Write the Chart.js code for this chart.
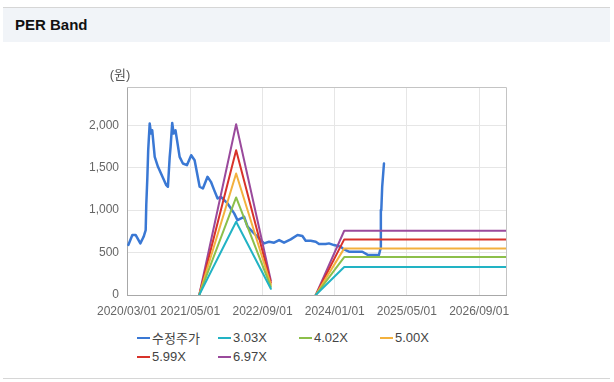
<!DOCTYPE html>
<html>
<head>
<meta charset="utf-8">
<script src="https://cdn.jsdelivr.net/npm/chart.js@4"></script>
<style>
    body { margin: 0; width: 614px; height: 382px; background: #fff; position: relative; overflow: hidden;
           font-family: "Liberation Sans", "Noto Sans CJK KR", sans-serif; }
    .header { position: absolute; left: 3px; top: 7px; width: 607px; height: 35px; background: #f1f4f8;
              border-top: 1px solid #d6d6d6; box-sizing: border-box; }
    .header span { position: absolute; left: 12px; top: 8px; font-size: 15px; font-weight: bold; color: #111; }
    .chartBox { position: absolute; left: 0; top: 50px; width: 614px; height: 272px; }
    .legend { position: absolute; left: 137px; top: 329px; display: grid; grid-template-columns: repeat(4, 81px);
              row-gap: 2px; font-size: 13px; color: #444; }
    .legend div { display: flex; align-items: center; height: 17px; white-space: nowrap; }
    .legend i { display: inline-block; width: 13px; height: 2px; margin-right: 2px; }
    .footer { position: absolute; left: 3px; top: 378px; width: 607px; border-top: 1px solid #d6d6d6; }
</style>
</head>
<body>
<div class="header"><span>PER Band</span></div>
<div class="chartBox"><canvas id="perChart" width="614" height="272"></canvas></div>
<div class="legend" id="legend"></div>
<div class="footer"></div>

<script>
// Data
const priceDates = [
    '2020-03-10', '2020-04-06', '2020-04-29', '2020-05-30', '2020-06-21', '2020-07-05', '2020-07-09',
    '2020-07-16', '2020-07-22', '2020-08-01', '2020-08-10', '2020-08-18', '2020-09-04', '2020-09-26',
    '2020-11-21', '2020-12-02', '2020-12-14', '2020-12-20', '2020-12-31', '2021-01-09', '2021-01-22',
    '2021-02-19', '2021-03-13', '2021-04-09', '2021-05-08', '2021-05-31', '2021-07-04', '2021-07-26',
    '2021-08-26', '2021-09-18', '2021-10-10', '2021-11-02', '2021-11-24', '2022-01-08', '2022-02-22',
    '2022-03-16', '2022-04-30', '2022-05-23', '2022-07-06', '2022-08-20', '2022-09-12', '2022-10-15',
    '2022-11-18', '2022-12-22', '2023-01-24', '2023-03-10', '2023-04-25', '2023-05-28', '2023-06-19',
    '2023-07-23', '2023-08-26', '2023-09-17', '2023-11-01', '2023-11-23', '2023-12-27', '2024-02-10',
    '2024-03-03', '2024-04-06', '2024-07-05', '2024-08-08', '2024-10-25', '2024-11-05', '2024-11-07',
    '2024-11-10', '2024-11-16', '2024-11-20', '2024-11-28'
];
const priceValues = [
    590, 706, 706, 608, 686, 765, 1059,
    1373, 1706, 2020, 1902, 1941, 1627, 1510,
    1294, 1275, 1627, 1745, 2027, 1902, 1941,
    1627, 1549, 1529, 1647, 1588, 1275, 1255,
    1392, 1333, 1235, 1137, 1157, 1078, 961,
    882, 921, 804, 726, 647, 608, 627,
    616, 647, 616, 655, 706, 694, 639,
    639, 627, 600, 600, 608, 588, 569,
    537, 510, 510, 475, 471, 549, 1000,
    1000, 1275, 1275, 1549
];

const bandDates = ['2021-07-01', '2022-03-07', '2022-10-27', '2023-03-01', '2023-08-26', '2024-03-05', '2027-03-01'];
const band303 = [0, 863, 73, null, 0, 330, 330];
const band402 = [0, 1149, 97, null, 0, 447, 447];
const band500 = [0, 1431, 120, null, 0, 549, 549];
const band599 = [0, 1706, 145, null, 0, 655, 655];
const band697 = [0, 2012, 170, null, 0, 757, 757];

const seriesLabels = ['수정주가', '3.03X', '4.02X', '5.00X', '5.99X', '6.97X'];
const seriesColors = ['#3a78d4', '#22b3c4', '#8cbf4a', '#f3b13e', '#d8322a', '#9a4a9c'];

const xTickDates = ['2020-03-01', '2021-05-01', '2022-09-01', '2024-01-01', '2025-05-01', '2026-09-01'];
const xRange = ['2020-03-01', '2027-03-01'];
const yTicks = [0, 500, 1000, 1500, 2000];
const yMax = 2450;

// Helpers
function toMs(d) {
    const p = d.split('-');
    return Date.UTC(+p[0], +p[1] - 1, +p[2]);
}

function formatDate(ms) {
    const d = new Date(ms);
    const mm = String(d.getUTCMonth() + 1).padStart(2, '0');
    const dd = String(d.getUTCDate()).padStart(2, '0');
    return `${d.getUTCFullYear()}/${mm}/${dd}`;
}

function points(dates, values) {
    return dates.map((d, i) => ({ x: toMs(d), y: values[i] }));
}

// Frame + unit label
const framePlugin = {
    id: 'frame',
    afterDraw(chart) {
        const { ctx, chartArea } = chart;
        ctx.save();
        ctx.strokeStyle = '#c4c4c4';
        ctx.lineWidth = 1;
        ctx.beginPath();
        ctx.moveTo(chartArea.left, chartArea.top + 0.5);
        ctx.lineTo(chartArea.right + 0.5, chartArea.top + 0.5);
        ctx.lineTo(chartArea.right + 0.5, chartArea.bottom);
        ctx.stroke();
        ctx.fillStyle = '#555';
        ctx.font = '13px "Liberation Sans", "Noto Sans CJK KR"';
        ctx.textAlign = 'center';
        ctx.textBaseline = 'middle';
        ctx.fillText('(원)', 120, 25);
        ctx.restore();
    }
};

const bandSeries = [band303, band402, band500, band599, band697];

const datasets = [{
    label: seriesLabels[0],
    data: points(priceDates, priceValues),
    borderColor: seriesColors[0],
    borderWidth: 2.5,
    order: 1
}].concat(bandSeries.map((values, i) => ({
    label: seriesLabels[i + 1],
    data: points(bandDates, values),
    borderColor: seriesColors[i + 1],
    borderWidth: 2,
    order: 0
})));

const tickFont = { family: '"Liberation Sans", "Noto Sans CJK KR"', size: 12 };

const perChart = new Chart(document.getElementById('perChart'), {
    type: 'line',
    data: { datasets: datasets },
    plugins: [framePlugin],
    options: {
        responsive: false,
        animation: false,
        events: [],
        layout: { padding: { top: 37, right: 108, left: 0, bottom: 0 } },
        elements: {
            point: { radius: 0 },
            line: { tension: 0, borderCapStyle: 'round', borderJoinStyle: 'round' }
        },
        plugins: {
            legend: { display: false },
            tooltip: { enabled: false }
        },
        scales: {
            x: {
                type: 'linear',
                min: toMs(xRange[0]),
                max: toMs(xRange[1]),
                afterBuildTicks: axis => { axis.ticks = xTickDates.map(d => ({ value: toMs(d) })); },
                afterFit: axis => { axis.height = 27; },
                grid: { color: '#e6e6e6', drawTicks: false },
                border: { color: '#a8a8a8' },
                ticks: {
                    autoSkip: false,
                    maxRotation: 0,
                    padding: 9,
                    color: '#666',
                    font: tickFont,
                    callback: value => formatDate(value)
                }
            },
            y: {
                min: 0,
                max: yMax,
                afterBuildTicks: axis => { axis.ticks = yTicks.map(v => ({ value: v })); },
                afterFit: axis => { axis.width = 127; },
                grid: { color: '#e6e6e6', drawTicks: false },
                border: { color: '#a8a8a8' },
                ticks: {
                    padding: 8,
                    color: '#666',
                    font: tickFont
                }
            }
        }
    }
});

// Legend
document.getElementById('legend').innerHTML = perChart.data.datasets.map(ds => `
    <div><i style="background:${ds.borderColor}"></i>${ds.label}</div>
`).join('');
</script>
</body>
</html>
